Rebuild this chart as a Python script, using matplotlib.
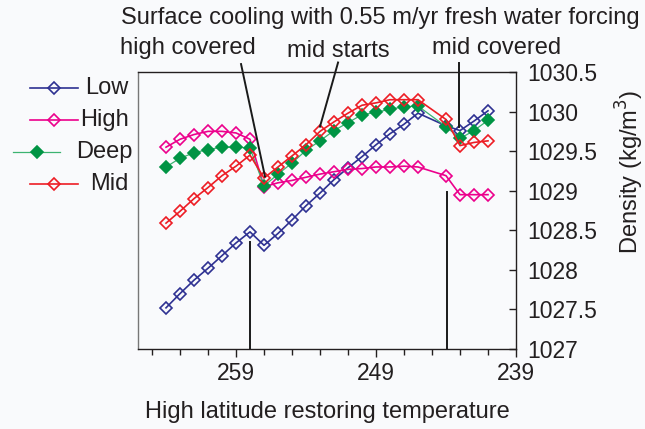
import matplotlib
matplotlib.use("Agg")
import matplotlib.pyplot as plt
from matplotlib.lines import Line2D

plt.rcParams["font.family"] = ["Liberation Sans", "DejaVu Sans"]

# restoring temperature (x) and density values per region
temps = [264, 263, 262, 261, 260, 259, 258, 257, 256, 255, 254, 253,
         252, 251, 250, 249, 248, 247, 246, 244, 243, 242, 241]
low = [1027.52, 1027.70, 1027.87, 1028.02, 1028.18, 1028.34, 1028.48, 1028.31,
       1028.46, 1028.63, 1028.81, 1028.97, 1029.14, 1029.29, 1029.43, 1029.58,
       1029.72, 1029.84, 1029.98, 1029.82, 1029.76, 1029.88, 1030.01]
high = [1029.55, 1029.65, 1029.71, 1029.75, 1029.75, 1029.73, 1029.65, 1029.05,
        1029.10, 1029.13, 1029.17, 1029.21, 1029.24, 1029.27, 1029.28, 1029.30,
        1029.30, 1029.31, 1029.30, 1029.19, 1028.95, 1028.95, 1028.95]
deep = [1029.30, 1029.41, 1029.48, 1029.52, 1029.55, 1029.55, 1029.54, 1029.06,
        1029.21, 1029.35, 1029.51, 1029.63, 1029.76, 1029.86, 1029.96, 1029.99,
        1030.03, 1030.06, 1030.07, 1029.81, 1029.66, 1029.76, 1029.89]
mid = [1028.59, 1028.74, 1028.90, 1029.04, 1029.19, 1029.31, 1029.45, 1029.16,
       1029.30, 1029.44, 1029.58, 1029.75, 1029.87, 1029.98, 1030.08, 1030.11,
       1030.15, 1030.15, 1030.15, 1029.90, 1029.57, 1029.61, 1029.63]

yticks = [1027, 1027.5, 1028, 1028.5, 1029, 1029.5, 1030, 1030.5]
ytick_labels = ["1027", "1027.5", "1028", "1028.5", "1029", "1029.5", "1030", "1030.5"]
xticks = [259, 249, 239]

TXT = "#231f20"
BG = "#f9fafc"
FS = 17
MS = 6

fig = plt.figure(figsize=(6.45, 4.29), dpi=100, facecolor=BG)
ax = fig.add_axes([138 / 645, 1 - 349 / 429, (516 - 138) / 645, (349 - 72) / 429])
ax.set_facecolor(BG)

styles = {
    "Low": dict(color="#2e3192", mfc="none", mec="#2e3192", lw=1.2),
    "High": dict(color="#ec008c", mfc="none", mec="#ec008c", lw=1.2),
    "Deep": dict(color="#3cb371", mfc="#009444", mec="#009444", lw=0.9),
    "Mid": dict(color="#ed1c24", mfc="none", mec="#ed1c24", lw=1.2),
}
values = {"Low": low, "High": high, "Deep": deep, "Mid": mid}
for name in ["Low", "High", "Deep", "Mid"]:
    st = styles[name]
    ax.plot(temps, values[name], color=st["color"], lw=st["lw"], marker="D", ms=MS,
            mfc=st["mfc"], mec=st["mec"], mew=1.2)

ax.set_xlim(266, 239)
ax.set_ylim(1027, 1030.5)
ax.set_xticks(xticks)
ax.set_xticks(list(range(265, 238, -2)), minor=True)
ax.yaxis.tick_right()
ax.set_yticks(yticks)
ax.set_yticklabels(ytick_labels)
ax.tick_params(axis="x", which="major", direction="out", length=6, width=1,
               labelsize=16.5, colors=TXT, pad=3)
ax.tick_params(axis="x", which="minor", direction="out", length=4, width=1, colors=TXT)
ax.tick_params(axis="y", direction="in", length=5, width=1, labelsize=16.5,
               colors=TXT, pad=8)
for sp in ax.spines.values():
    sp.set_color(TXT)
    sp.set_linewidth(1)
ax.spines["left"].set_color("#777777")

ax.set_xlabel("High latitude restoring temperature", fontsize=FS, color=TXT, labelpad=12)
ax.yaxis.set_label_position("right")
ax.set_ylabel("Density (kg/m$^3$)", fontsize=FS, color=TXT)
ax.yaxis.set_label_coords((630 - 138) / 378, (349 - 172) / 277)
ax.yaxis.label.set_verticalalignment("center")

# annotations
fig.text(380 / 645, 1 - 18 / 429, "Surface cooling with 0.55 m/yr fresh water forcing",
         ha="center", va="center", fontsize=FS, color=TXT)
fig.text(188 / 645, 1 - 48 / 429, "high covered", ha="center", va="center",
         fontsize=FS, color=TXT)
fig.text(338 / 645, 1 - 51 / 429, "mid starts", ha="center", va="center",
         fontsize=FS, color=TXT)
fig.text(497 / 645, 1 - 48 / 429, "mid covered", ha="center", va="center",
         fontsize=FS, color=TXT)

callouts = [
    ([258.64, 256.93], [1030.60, 1029.18]),  # high covered
    ([251.71, 253.0], [1030.62, 1029.81]),   # mid starts
    ([243.07, 243.07], [1030.62, 1029.81]),  # mid covered
    ([258.0, 258.0], [1028.35, 1027.0]),
    ([243.93, 243.93], [1028.98, 1027.0]),
]
for xs, ys in callouts:
    ax.plot(xs, ys, color="#1a1a1a", lw=1.4, clip_on=False)

# legend drawn to the left of the axes
legend_rows = [("Low", 88, 30, 78, 128), ("High", 120, 30, 78, 129),
               ("Deep", 152, 13, 60, 132), ("Mid", 184, 30, 78, 128)]
for name, py, x0, x1, xr in legend_rows:
    st = styles[name]
    yf = 1 - py / 429
    fig.add_artist(Line2D([x0 / 645, x1 / 645], [yf, yf], color=st["color"],
                          lw=st["lw"], transform=fig.transFigure))
    fig.add_artist(Line2D([(x0 + x1) / 2 / 645], [yf], marker="D", ms=MS,
                          mfc=st["mfc"], mec=st["mec"], mew=1.2,
                          transform=fig.transFigure))
    fig.text(xr / 645, yf, name, ha="right", va="center", fontsize=FS, color=TXT)

fig.savefig("out.png", dpi=100, facecolor=BG)
